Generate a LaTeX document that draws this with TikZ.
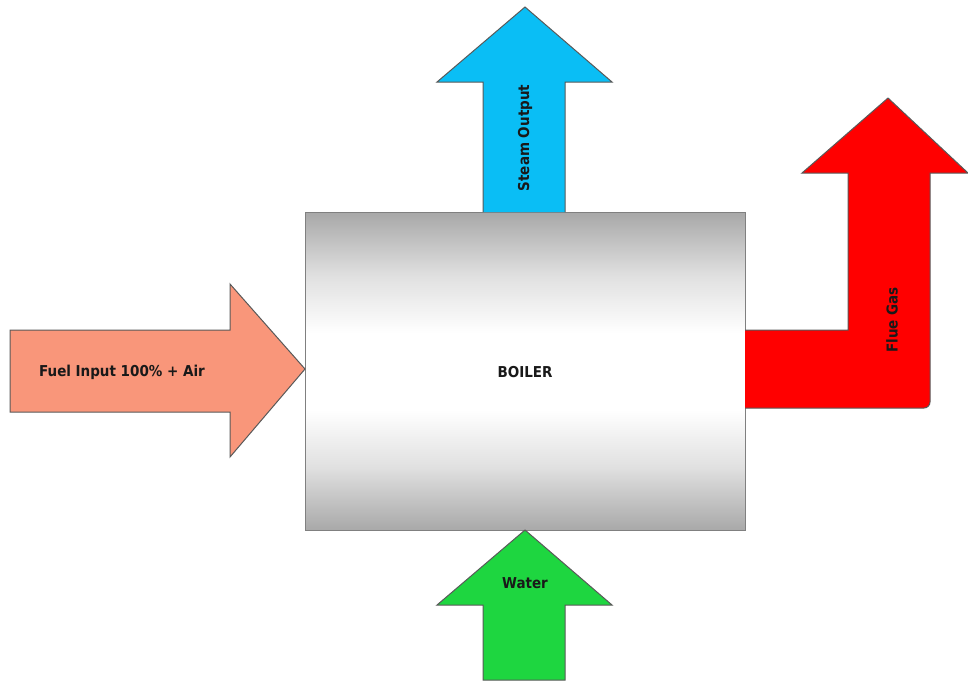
\documentclass[tikz,border=0pt]{standalone}
\usepackage{fontspec}
\setmainfont{DejaVu Sans Condensed}[BoldFont={DejaVu Sans Condensed Bold}]
\pgfdeclareverticalshading{boilershade}{100bp}{
  color(0bp)=(black!34); color(25bp)=(black!34); color(35bp)=(black!12); color(44bp)=(white); color(56bp)=(white);
  color(65bp)=(black!12); color(75bp)=(black!34); color(100bp)=(black!34)}
\begin{document}
\begin{tikzpicture}[x=1pt,y=-1pt,
  outl/.style={draw=black!65, line width=1pt, line join=miter},
  lbl/.style={font=\bfseries\fontsize{15}{17}\selectfont, text=black!90, inner sep=0pt}]
\definecolor{fuelc}{RGB}{249,150,122}
\definecolor{steamc}{RGB}{10,190,245}
\definecolor{fluec}{RGB}{255,0,0}
\definecolor{waterc}{RGB}{30,214,64}
\useasboundingbox (0,0) rectangle (968,683);
% boiler
\node[draw=black!50, line width=1.2pt, minimum width=440pt, minimum height=318pt, anchor=north west,
  shading=boilershade, inner sep=0pt] (boiler) at (305,212) {};
\node[lbl] (boilerlbl) at (525,372) {BOILER};
% fuel arrow
\draw[outl, fill=fuelc] (10,330) -- (230,330) -- (230,284) -- (boiler.west |- 0,369) -- (230,457) -- (230,412) -- (10,412) -- cycle;
\node[lbl] (fuel) at (122,372) {Fuel Input 100\% + Air};
% steam arrow
\draw[outl, fill=steamc] (483,212) -- (483,82) -- (437,82) -- (525,7) -- (612,82) -- (565,82) -- (565,212);
\node[lbl, rotate=90] (steam) at (525,138) {Steam Output};
% flue gas arrow
\draw[outl, fill=fluec] (745,330) -- (848,330) -- (848,173) -- (802,173) -- (888,98) -- (968,173) -- (930,173) -- (930,402) arc[start angle=0,end angle=90,radius=6] -- (745,408);
\node[lbl, rotate=90] (flue) at (892,320) {Flue Gas};
% water arrow
\draw[outl, fill=waterc] (483,680) -- (483,605) -- (437,605) -- (525,530) -- (612,605) -- (565,605) -- (565,680) -- cycle;
\node[lbl] (water) at (525,583) {Water};
\end{tikzpicture}
\end{document}
